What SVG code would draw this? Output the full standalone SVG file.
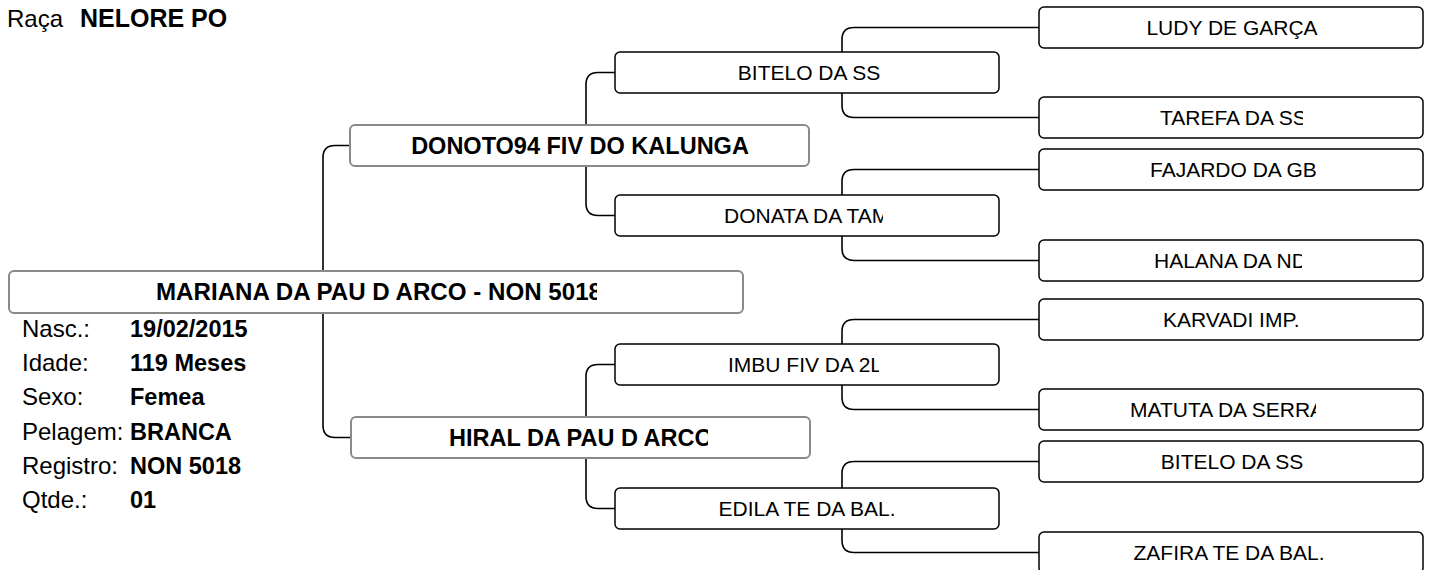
<svg xmlns="http://www.w3.org/2000/svg" width="1430" height="570" viewBox="0 0 1430 570">
<style>
.t{font-family:"Liberation Sans",Arial,sans-serif;fill:#000}
.r{font-size:21px}
.b{font-size:23.5px;font-weight:bold}
.lab{font-size:24px}
.val{font-size:23.5px;font-weight:bold}
.g{fill:#fff;stroke:#8a8a8a;stroke-width:2}
.k{fill:#fff;stroke:#000;stroke-width:1.5}
.c{fill:none;stroke:#000;stroke-width:1.6}
</style>
<defs>
<clipPath id="cMain"><rect x="9" y="271" width="588" height="42"/></clipPath>
<clipPath id="cHiral"><rect x="351" y="417" width="357" height="41"/></clipPath>
<clipPath id="cDonata"><rect x="615" y="195" width="268" height="41"/></clipPath>
<clipPath id="cImbu"><rect x="615" y="344" width="264" height="41"/></clipPath>
<clipPath id="cTarefa"><rect x="1039" y="97" width="264" height="41"/></clipPath>
<clipPath id="cFajardo"><rect x="1039" y="149" width="277" height="41"/></clipPath>
<clipPath id="cHalana"><rect x="1039" y="240" width="263" height="41"/></clipPath>
<clipPath id="cKarvadi"><rect x="1039" y="299" width="260" height="41"/></clipPath>
<clipPath id="cMatuta"><rect x="1039" y="389" width="277" height="41"/></clipPath>
</defs>
<rect width="1430" height="570" fill="#fff"/>
<g id="header">
<text class="t" x="7" y="27" font-size="24">Raça</text>
<text class="t" x="80" y="27" font-size="25" font-weight="bold">NELORE PO</text>
</g>
<g id="connectors">
<path class="c" d="M323 271 V157.5 Q323 145.5 335 145.5 H350"/>
<path class="c" d="M323 313 V425.5 Q323 437.5 335 437.5 H351"/>
<path class="c" d="M586 125 V84.5 Q586 72.5 598 72.5 H615"/>
<path class="c" d="M586 166 V203.5 Q586 215.5 598 215.5 H615"/>
<path class="c" d="M586 417 V376.5 Q586 364.5 598 364.5 H615"/>
<path class="c" d="M586 458 V496.5 Q586 508.5 598 508.5 H615"/>
<path class="c" d="M842 52 V39.5 Q842 27.5 854 27.5 H1039"/>
<path class="c" d="M842 93 V105.5 Q842 117.5 854 117.5 H1039"/>
<path class="c" d="M842 195 V181.5 Q842 169.5 854 169.5 H1039"/>
<path class="c" d="M842 236 V248.5 Q842 260.5 854 260.5 H1039"/>
<path class="c" d="M842 344 V331.5 Q842 319.5 854 319.5 H1039"/>
<path class="c" d="M842 385 V397.5 Q842 409.5 854 409.5 H1039"/>
<path class="c" d="M842 488 V473.5 Q842 461.5 854 461.5 H1039"/>
<path class="c" d="M842 529 V540.5 Q842 552.5 854 552.5 H1039"/>
</g>
<g id="n-mariana">
<rect class="g" x="9" y="271" width="734" height="42" rx="5"/>
<text class="t b" x="156" y="300" textLength="446" lengthAdjust="spacingAndGlyphs" clip-path="url(#cMain)">MARIANA DA PAU D ARCO - NON 5018</text>
</g>
<g id="info">
<text class="t lab" x="22" y="337">Nasc.:</text><text class="t val" x="130" y="337">19/02/2015</text>
<text class="t lab" x="22" y="371">Idade:</text><text class="t val" x="130" y="371">119 Meses</text>
<text class="t lab" x="22" y="405">Sexo:</text><text class="t val" x="130" y="405">Femea</text>
<text class="t lab" x="22" y="440">Pelagem:</text><text class="t val" x="130" y="440">BRANCA</text>
<text class="t lab" x="22" y="474">Registro:</text><text class="t val" x="130" y="474">NON 5018</text>
<text class="t lab" x="22" y="508">Qtde.:</text><text class="t val" x="130" y="508">01</text>
</g>
<g id="n-donoto">
<rect class="g" x="350" y="125" width="459" height="41" rx="5"/>
<text class="t b" x="580" y="154" text-anchor="middle">DONOTO94 FIV DO KALUNGA</text>
</g>
<g id="n-hiral">
<rect class="g" x="351" y="417" width="459" height="41" rx="5"/>
<text class="t b" x="449" y="446" clip-path="url(#cHiral)">HIRAL DA PAU D ARCO</text>
</g>
<g id="n-bitelo1">
<rect class="k" x="615" y="52" width="384" height="41" rx="5"/>
<text class="t r" x="809" y="80" text-anchor="middle">BITELO DA SS</text>
</g>
<g id="n-donata">
<rect class="k" x="615" y="195" width="384" height="41" rx="5"/>
<text class="t r" x="724" y="223" clip-path="url(#cDonata)">DONATA DA TAM</text>
</g>
<g id="n-imbu">
<rect class="k" x="615" y="344" width="384" height="41" rx="5"/>
<text class="t r" x="728" y="372" clip-path="url(#cImbu)">IMBU FIV DA 2L</text>
</g>
<g id="n-edila">
<rect class="k" x="615" y="488" width="384" height="41" rx="5"/>
<text class="t r" x="807" y="516" text-anchor="middle">EDILA TE DA BAL.</text>
</g>
<g id="n-ludy">
<rect class="k" x="1039" y="7" width="384" height="41" rx="5"/>
<text class="t r" x="1232" y="35" text-anchor="middle">LUDY DE GARÇA</text>
</g>
<g id="n-tarefa">
<rect class="k" x="1039" y="97" width="384" height="41" rx="5"/>
<text class="t r" x="1160" y="125" clip-path="url(#cTarefa)">TAREFA DA SS</text>
</g>
<g id="n-fajardo">
<rect class="k" x="1039" y="149" width="384" height="41" rx="5"/>
<text class="t r" x="1150" y="177" clip-path="url(#cFajardo)">FAJARDO DA GB</text>
</g>
<g id="n-halana">
<rect class="k" x="1039" y="240" width="384" height="41" rx="5"/>
<text class="t r" x="1154" y="268" clip-path="url(#cHalana)">HALANA DA ND</text>
</g>
<g id="n-karvadi">
<rect class="k" x="1039" y="299" width="384" height="41" rx="5"/>
<text class="t r" x="1163" y="327" clip-path="url(#cKarvadi)">KARVADI IMP.</text>
</g>
<g id="n-matuta">
<rect class="k" x="1039" y="389" width="384" height="41" rx="5"/>
<text class="t r" x="1130" y="417" clip-path="url(#cMatuta)">MATUTA DA SERRA</text>
</g>
<g id="n-bitelo2">
<rect class="k" x="1039" y="441" width="384" height="41" rx="5"/>
<text class="t r" x="1232" y="469" text-anchor="middle">BITELO DA SS</text>
</g>
<g id="n-zafira">
<rect class="k" x="1039" y="532" width="384" height="41" rx="5"/>
<text class="t r" x="1229" y="560" text-anchor="middle">ZAFIRA TE DA BAL.</text>
</g>
</svg>
